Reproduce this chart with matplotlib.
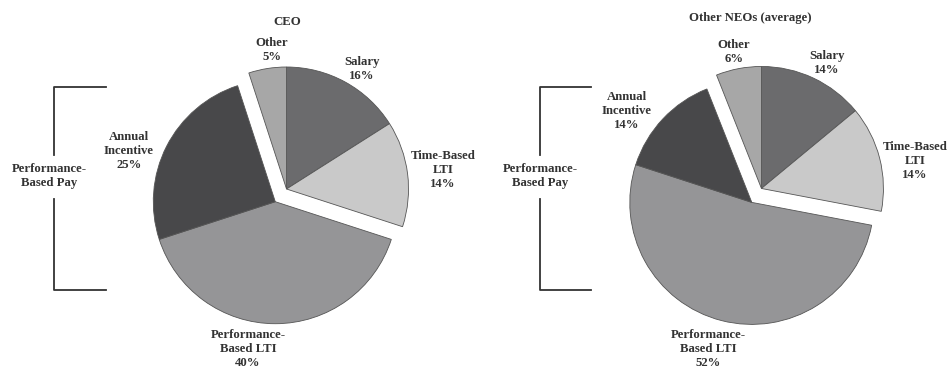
import numpy as np
import matplotlib.pyplot as plt

plt.rcParams['font.family'] = ['Liberation Serif', 'DejaVu Serif']

# --- data ---
categories = ["Salary", "Time-Based\nLTI", "Performance-\nBased LTI", "Annual\nIncentive", "Other"]
ceo_values = [16, 14, 40, 25, 5]
neo_values = [14, 14, 52, 14, 6]
titles = ["CEO", "Other NEOs (average)"]
# group of each slice: 0 = fixed / other, 1 = performance-based pay
groups = [0, 0, 1, 1, 0]

colors = ["#6b6b6d", "#c9c9c9", "#959597", "#48484a", "#a7a7a7"]
H = 373  # figure height in px, y is measured from the top in the layout below


def draw_pie(ax, values, cx, cy, radius, shift):
    wedges, _ = ax.pie(values, colors=colors, startangle=90, counterclock=False,
                       center=(cx, cy), radius=radius, frame=True,
                       wedgeprops=dict(edgecolor="#555555", linewidth=0.6))
    # pull the two groups apart, each along its own (size weighted) mid angle
    for g in (0, 1):
        members = [w for w, gg in zip(wedges, groups) if gg == g]
        vx = sum((w.theta2 - w.theta1) * np.cos(np.radians((w.theta1 + w.theta2) / 2)) for w in members)
        vy = sum((w.theta2 - w.theta1) * np.sin(np.radians((w.theta1 + w.theta2) / 2)) for w in members)
        mid = np.arctan2(vy, vx)
        for w in members:
            w.set_center((cx + shift * np.cos(mid), cy + shift * np.sin(mid)))
    return wedges


fig = plt.figure(figsize=(9.5, 3.73), dpi=100)
ax = fig.add_axes([0, 0, 1, 1])

draw_pie(ax, ceo_values, 280.5, H - 195, 122, 8.5)
draw_pie(ax, neo_values, 756, H - 195, 122, 8.5)
ax.set_xlim(0, 950)
ax.set_ylim(0, H)
ax.set_aspect("equal")
ax.axis("off")

kw = dict(ha="center", va="center", fontsize=9.2, fontweight="bold", color="#333333",
          linespacing=1.2)

# titles
ax.text(287, H - 22, titles[0], **kw)
ax.text(750, H - 18, titles[1], **kw)

# slice labels
ceo_pos = [(362, 69), (443, 170), (248, 349), (129, 151), (272, 50)]
neo_pos = [(827, 63), (915, 161), (708, 349), (627, 111), (734, 52)]
for vals, pos in ((ceo_values, ceo_pos), (neo_values, neo_pos)):
    for cat, v, (x, y) in zip(categories, vals, pos):
        ax.text(x, H - y, f"{cat}\n{v}%", **kw)

# performance-based pay brackets
for bx, bx2, tx in ((54, 106, 49), (540, 591, 540)):
    ax.plot([bx2, bx, bx], [H - 87, H - 87, H - 155], color="#333333", lw=1.3)
    ax.plot([bx2, bx, bx], [H - 290, H - 290, H - 199], color="#333333", lw=1.3)
    ax.text(tx, H - 176, "Performance-\nBased Pay", **kw)

fig.savefig("out.png", dpi=100)
